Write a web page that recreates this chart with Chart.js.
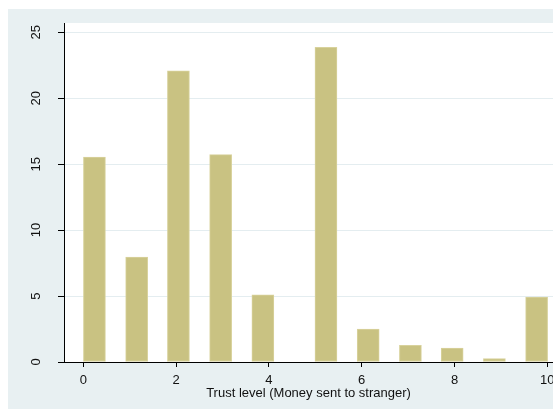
<!DOCTYPE html>
<html>
<head>
<meta charset="utf-8">
<script src="https://cdn.jsdelivr.net/npm/chart.js@4/dist/chart.umd.min.js"></script>
<style>
  html, body { margin: 0; padding: 0; background: #ffffff; }
  canvas { display: block; }
</style>
</head>
<body>
<canvas id="c" width="553" height="411"></canvas>
<script>
// Histogram of trust level (money sent to stranger), percent of respondents per bin
const binCenters = [0.24, 1.15, 2.05, 2.96, 3.87, 5.23, 6.14, 7.05, 7.95, 8.86, 9.77];
const percents   = [15.53, 7.95, 22.07, 15.73, 5.10, 23.86, 2.50, 1.26, 1.06, 0.25, 4.92];
const xTickValues = [0, 2, 4, 6, 8, 10];
const xTickLabels = ['0', '2', '4', '6', '8', '10'];
const yTickValues = [0, 5, 10, 15, 20, 25];
const yTickLabels = ['0', '5', '10', '15', '20', '25'];
const xTitle = 'Trust level (Money sent to stranger)';

const FONT = "'Liberation Sans', Arial, Helvetica, sans-serif";
const OUTER_BG = '#e8f0f2';
const GRID = '#e4edf0';
const BAR_FILL = 'rgb(201,194,130)';
const BAR_EDGE = 'rgb(216,210,156)';

const backdrop = {
  id: 'backdrop',
  beforeDraw(chart) {
    const { ctx, width, height, chartArea: a } = chart;
    ctx.save();
    ctx.fillStyle = '#ffffff';
    ctx.fillRect(0, 0, width, height);
    ctx.fillStyle = OUTER_BG;
    ctx.fillRect(8, 9, width - 8, height - 11);
    ctx.fillStyle = '#ffffff';
    ctx.fillRect(a.left, a.top, a.right - a.left, a.bottom - a.top);
    ctx.restore();
  }
};

// vertical (rotated) y tick labels
const yLabels = {
  id: 'yLabels',
  afterDraw(chart) {
    const { ctx } = chart;
    const y = chart.scales.y;
    ctx.save();
    ctx.font = '13px ' + FONT;
    ctx.fillStyle = '#111';
    ctx.textAlign = 'center';
    ctx.textBaseline = 'middle';
    yTickValues.forEach((v, i) => {
      const py = y.getPixelForValue(v);
      ctx.save();
      ctx.translate(36, py);
      ctx.rotate(-Math.PI / 2);
      ctx.fillText(yTickLabels[i], 0, 0);
      ctx.restore();
    });
    ctx.restore();
  }
};

new Chart(document.getElementById('c'), {
  type: 'bar',
  data: {
    datasets: [{
      data: binCenters.map((x, i) => ({ x: x, y: percents[i] })),
      backgroundColor: BAR_FILL,
      borderColor: BAR_EDGE,
      borderWidth: 1,
      borderSkipped: false,
      barThickness: 22
    }]
  },
  options: {
    responsive: false,
    animation: false,
    devicePixelRatio: 1,
    layout: { padding: { top: 23, left: 0, right: 0, bottom: 0 } },
    plugins: { legend: { display: false }, tooltip: { enabled: false } },
    scales: {
      x: {
        type: 'linear',
        offset: false,
        min: -0.416,
        max: 10.123,
        afterBuildTicks: s => { s.ticks = xTickValues.map(v => ({ value: v })); },
        afterFit: s => { s.height = 49; s.paddingLeft = 0; s.paddingRight = 0; },
        ticks: {
          font: { family: FONT, size: 13 },
          color: '#111',
          padding: 6,
          maxRotation: 0,
          callback: (v) => xTickLabels[xTickValues.indexOf(v)]
        },
        grid: { offset: false, drawOnChartArea: false, drawTicks: true, tickLength: 5, tickColor: '#000' },
        border: { display: true, color: '#000', width: 1 },
        title: {
          display: true,
          text: xTitle,
          font: { family: FONT, size: 13 },
          color: '#111',
          padding: { top: 0, bottom: 10 }
        }
      },
      y: {
        min: 0,
        max: 25.705,
        afterBuildTicks: s => { s.ticks = yTickValues.map(v => ({ value: v })); },
        afterFit: s => { s.width = 64; s.paddingTop = 0; s.paddingBottom = 0; },
        ticks: { display: false },
        grid: { color: GRID, lineWidth: 1, drawTicks: true, tickLength: 6, tickColor: '#000' },
        border: { display: true, color: '#000', width: 1 }
      }
    }
  },
  plugins: [backdrop, yLabels]
});
</script>
</body>
</html>
